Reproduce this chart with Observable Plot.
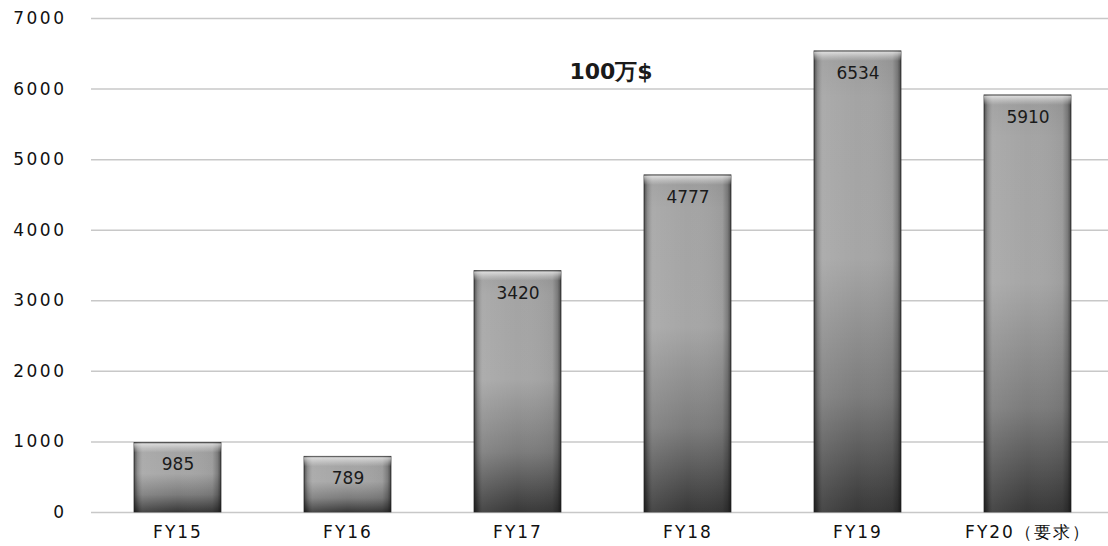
<!DOCTYPE html>
<html>
<head>
<meta charset="utf-8">
<script src="https://cdn.jsdelivr.net/npm/d3@7"></script>
<script src="https://cdn.jsdelivr.net/npm/@observablehq/plot@0.6"></script>
<style>
  html, body { margin: 0; padding: 0; background: #fff; }
  #chart svg { display: block; }
</style>
</head>
<body>
<div id="chart"></div>
<script>
const categories = ["FY15", "FY16", "FY17", "FY18", "FY19", "FY20（要求）"];
const values = [985, 789, 3420, 4777, 6534, 5910];
const yTicks = [0, 1000, 2000, 3000, 4000, 5000, 6000, 7000];
const unitTitle = "100万$";

const data = categories.map((c, i) => ({category: c, value: values[i]}));
const font = "'DejaVu Sans', Verdana, sans-serif";

const plot = Plot.plot({
  width: 1108,
  height: 546,
  marginLeft: 91,
  marginRight: 0,
  marginTop: 18,
  marginBottom: 34,
  style: {fontFamily: font, fontSize: "15px", color: "#111", background: "#fff"},
  x: {domain: categories, range: [91, 1113], paddingInner: 0.49, paddingOuter: 0.245, align: 0.5, label: null, tickSize: 0, tickPadding: 13},
  y: {domain: [0, 7000], ticks: yTicks, tickFormat: "d", label: null, tickSize: 0, tickPadding: 25},
  marks: [
    Plot.gridY(yTicks, {stroke: "#c8c8c8", strokeOpacity: 1, strokeWidth: 1.5}),
    Plot.barY(data, {x: "category", y: "value", fill: "url(#gV)", stroke: "#3a3a3a", strokeWidth: 0.8}),
    Plot.barY(data, {x: "category", y: "value", fill: "url(#gH)"}),
    Plot.barY(data, {x: "category", y1: "value", y2: "value", insetBottom: -10, fill: "url(#gTop)"}),
    Plot.text(data, {x: "category", y: "value", text: d => String(d.value), dy: 22, fontSize: 17, fill: "#1a1a1a", letterSpacing: 2.5}),
    Plot.text([unitTitle], {frameAnchor: "top", dx: 11, dy: 45, fontSize: 22, fontWeight: "bold", fill: "#1a1a1a", letterSpacing: 3})
  ]
});

const ns = "http://www.w3.org/2000/svg";
const defs = document.createElementNS(ns, "defs");
function grad(id, horizontal, stops) {
  const g = document.createElementNS(ns, "linearGradient");
  g.setAttribute("id", id);
  g.setAttribute("x1", "0"); g.setAttribute("y1", "0");
  g.setAttribute("x2", horizontal ? "1" : "0"); g.setAttribute("y2", horizontal ? "0" : "1");
  for (const [o, c, a] of stops) {
    const s = document.createElementNS(ns, "stop");
    s.setAttribute("offset", o);
    s.setAttribute("stop-color", c);
    s.setAttribute("stop-opacity", a);
    g.appendChild(s);
  }
  defs.appendChild(g);
}
grad("gV", false, [["0", "#9a9a9a", 1], ["0.1", "#a4a4a4", 1], ["0.45", "#a6a6a6", 1], ["0.75", "#7c7c7c", 1], ["1", "#383838", 1]]);
grad("gH", true, [["0", "#000", 0.5], ["0.04", "#000", 0.15], ["0.1", "#fff", 0.08], ["0.5", "#fff", 0], ["0.9", "#000", 0.05], ["0.96", "#000", 0.25], ["1", "#000", 0.55]]);
grad("gTop", false, [["0", "#555", 0.5], ["0.15", "#fff", 0.6], ["0.6", "#fff", 0.25], ["1", "#fff", 0]]);
const svg = plot.tagName.toLowerCase() === "svg" ? plot : plot.querySelector("svg");
svg.insertBefore(defs, svg.firstChild);
svg.querySelectorAll("[aria-label='y-axis tick label'] text").forEach(t => { t.setAttribute("letter-spacing", "2.5"); t.setAttribute("font-size", "17"); });
svg.querySelectorAll("[aria-label='x-axis tick label'] text").forEach(t => { t.setAttribute("letter-spacing", "2"); t.setAttribute("font-size", "17"); });
document.getElementById("chart").appendChild(plot);
</script>
</body>
</html>
